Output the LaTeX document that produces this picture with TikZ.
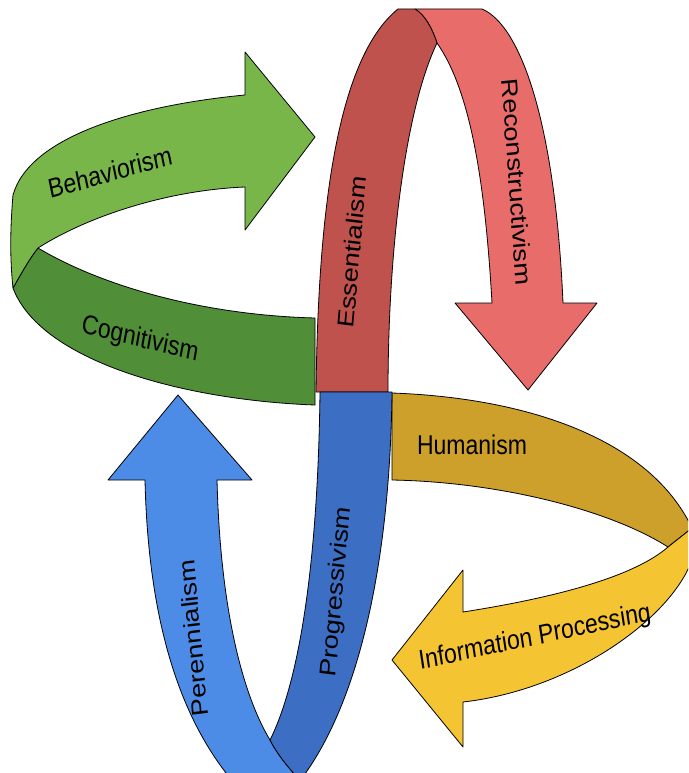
\documentclass[tikz,border=0pt]{standalone}
\usepackage{fontspec}
\setmainfont{Liberation Sans}

\definecolor{behaviorgreen}{RGB}{120,182,74}
\definecolor{cognitivegreen}{RGB}{80,142,56}
\definecolor{essentialred}{RGB}{192,82,78}
\definecolor{reconred}{RGB}{232,108,106}
\definecolor{humanyellow}{RGB}{204,160,42}
\definecolor{infoyellow}{RGB}{244,196,50}
\definecolor{progblue}{RGB}{60,110,196}
\definecolor{perennblue}{RGB}{76,140,230}

\begin{document}
\begin{tikzpicture}[x=1pt,y=-1pt]
        \tikzstyle{every node}=[font=\fontsize{23}{27}\selectfont, text=black, inner sep=0pt, yscale=1.18]
        \tikzstyle{band}=[draw=black, line width=0.8pt, line join=round]

        \fill[white] (0,0) rectangle (688,773);
        \clip (0,0) rectangle (688,773);

        % green: Behaviorism / Cognitivism
        \filldraw[band, fill=cognitivegreen] (38,248) .. controls (100,285) and (200,315) .. (315,318)
            -- (315,405) .. controls (180,400) and (40,360) .. (13,288)
            .. controls (22,272) and (30,258) .. (38,248) -- cycle;
        \filldraw[band, fill=behaviorgreen] (245,95) .. controls (140,105) and (30,135) .. (13,195)
            .. controls (10,230) and (10,260) .. (13,288)
            .. controls (22,272) and (30,258) .. (38,248)
            .. controls (90,215) and (170,190) .. (245,187)
            -- (245,230) -- (315,137) -- (245,52) -- cycle;
        \node[rotate=13.6] (behaviorism) at (110,172) {Behaviorism};
        \node[rotate=-11.9] (cognitivism) at (140,340) {Cognitivism};

        % red: Essentialism / Reconstructivism
        \filldraw[band, fill=reconred] (415,9) -- (482,9) .. controls (520,25) and (555,120) .. (563,303)
            -- (597,303) -- (528,390) -- (455,303) -- (492,303)
            .. controls (485,180) and (470,90) .. (437,43)
            .. controls (432,28) and (425,15) .. (415,9) -- cycle;
        \filldraw[band, fill=essentialred] (316,392) .. controls (318,220) and (335,60) .. (398,9)
            -- (415,9) .. controls (425,15) and (432,28) .. (437,43)
            .. controls (405,110) and (388,250) .. (388,392) -- cycle;
        \node[rotate=84.1] (essentialism) at (352,252) {Essentialism};
        \node[rotate=-85.3] (reconstructivism) at (517,182) {Reconstructivism};

        % yellow: Humanism / Information Processing
        \filldraw[band, fill=humanyellow] (392,393) .. controls (530,398) and (650,440) .. (692,528)
            -- (668,547) .. controls (610,510) and (500,482) .. (392,480) -- cycle;
        \filldraw[band, fill=infoyellow] (668,547) -- (692,528) -- (692,560)
            .. controls (670,620) and (570,690) .. (463,702)
            -- (463,747) -- (392,660) -- (463,570) -- (463,612)
            .. controls (540,600) and (630,580) .. (668,547) -- cycle;
        \node (humanism) at (472,445) {Humanism};
        \node[rotate=10.2] (infoprocessing) at (535,638) {Information Processing};

        % blue: Progressivism / Perennialism
        \filldraw[band, fill=perennblue] (217,480) -- (252,480) -- (178,395) -- (108,480) -- (145,480)
            .. controls (148,610) and (175,710) .. (230,778) -- (298,778)
            .. controls (286,765) and (276,752) .. (270,740)
            .. controls (240,690) and (220,600) .. (217,480) -- cycle;
        \filldraw[band, fill=progblue] (320,392) -- (392,392) .. controls (390,560) and (360,700) .. (302,778)
            -- (298,778) .. controls (286,765) and (276,752) .. (270,740)
            .. controls (300,680) and (318,560) .. (320,392) -- cycle;
        \node[rotate=84.1] (progressivism) at (337,592) {Progressivism};
        \node[rotate=95.9] (perennialism) at (193,638) {Perennialism};
\end{tikzpicture}
\end{document}
